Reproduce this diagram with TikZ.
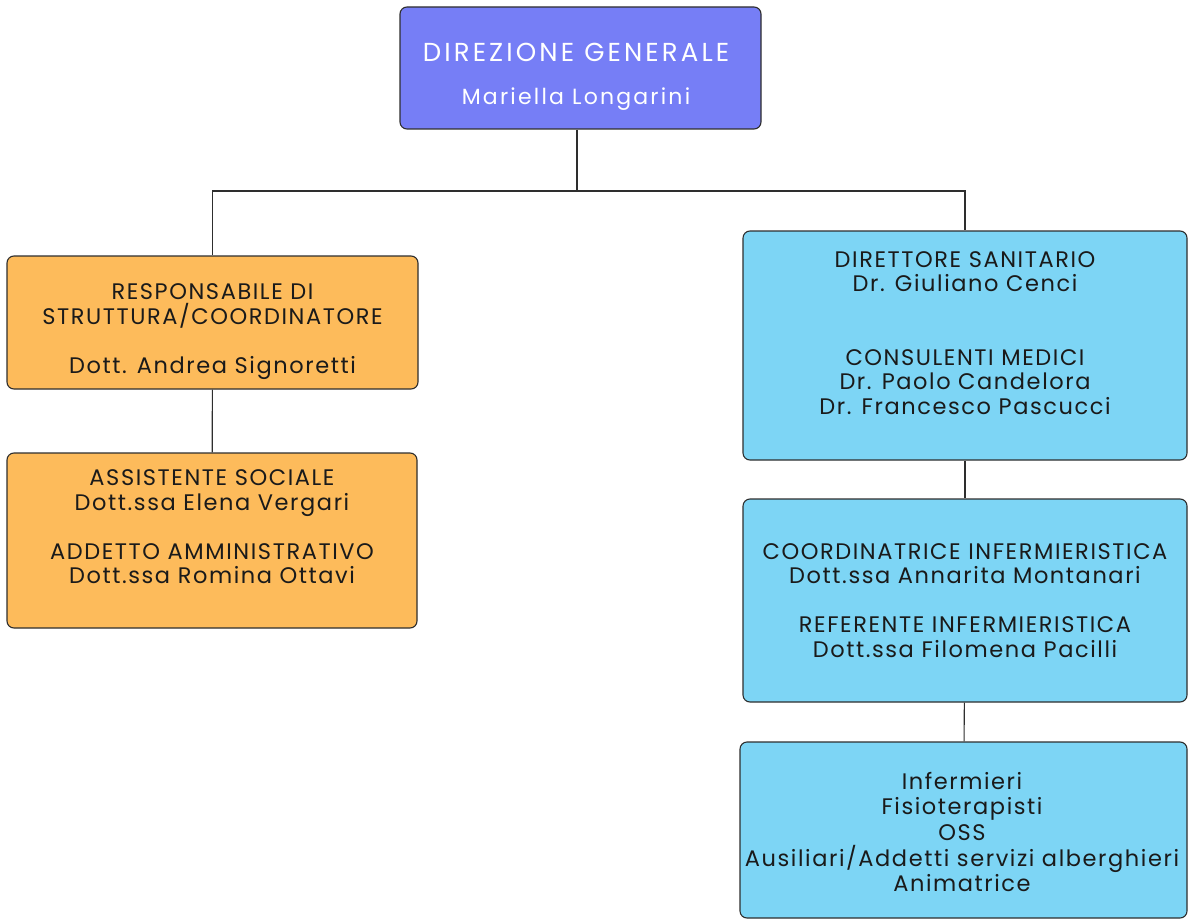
\documentclass[tikz,border=0pt]{standalone}
\usepackage{fontspec}
\setmainfont{Poppins}[LetterSpace=7]
\definecolor{violetbox}{HTML}{767EF6}
\definecolor{orangebox}{HTML}{FDBB5B}
\definecolor{bluebox}{HTML}{7DD5F5}
\definecolor{edgegray}{HTML}{2E2E2E}
\definecolor{inktext}{HTML}{1A1A1A}
\tikzset{
  unit/.style={draw=edgegray, line width=1.1pt, rounded corners=7pt, inner sep=0pt},
  caption/.style={align=center, text=inktext, inner sep=0pt,
    font=\fontsize{22.5}{24.5}\selectfont},
  link/.style={draw=edgegray, line width=1.1pt}
}
\begin{document}
\begin{tikzpicture}[x=1pt,y=-1pt]
\useasboundingbox (0,0) rectangle (1188,920);
% top
\node [unit, fill=violetbox, minimum width=361pt, minimum height=122pt] (dg) at (580.5,68) {};
\node [caption, text=white, font=\fontsize{26}{44}\selectfont\addfontfeature{LetterSpace=12}] (dgtxt) at (576,77)
  {DIREZIONE GENERALE\\[-1pt]{\fontsize{22}{24}\selectfont\addfontfeature{LetterSpace=10}Mariella Longarini}};
% left branch
\node [unit, fill=orangebox, minimum width=411pt, minimum height=133pt] (resp) at (212.5,322.5) {};
\node [caption] (resptxt) at (212.5,331.5)
  {RESPONSABILE DI\\STRUTTURA/COORDINATORE\\[24.5pt]Dott. Andrea Signoretti};
\node [unit, fill=orangebox, minimum width=410pt, minimum height=175pt] (staff) at (212,540.5) {};
\node [caption] (stafftxt) at (212,527)
  {ASSISTENTE SOCIALE\\Dott.ssa Elena Vergari\\[24.5pt]ADDETTO AMMINISTRATIVO\\Dott.ssa Romina Ottavi};
% right branch
\node [unit, fill=bluebox, minimum width=444pt, minimum height=229pt] (dirsan) at (965,345.5) {};
\node [caption] (dirsantxt) at (965,333)
  {DIRETTORE SANITARIO\\Dr. Giuliano Cenci\\[49pt]CONSULENTI MEDICI\\Dr. Paolo Candelora\\Dr. Francesco Pascucci};
\node [unit, fill=bluebox, minimum width=444pt, minimum height=203pt] (coord) at (965,600.5) {};
\node [caption] (coordtxt) at (965,600.5)
  {COORDINATRICE INFERMIERISTICA\\Dott.ssa Annarita Montanari\\[24.5pt]REFERENTE INFERMIERISTICA\\Dott.ssa Filomena Pacilli};
\node [unit, fill=bluebox, minimum width=447pt, minimum height=176pt] (oper) at (963.5,830) {};
\node [caption, font=\fontsize{22.5}{25.7}\selectfont] (opertxt) at (962,832)
  {Infermieri\\Fisioterapisti\\OSS\\Ausiliari/Addetti servizi alberghieri\\Animatrice};
% connectors
\coordinate (split) at (577,191);
\draw [link] (dg.south -| split) -- (split);
\draw [link] (resp.north) |- (split) -| (dirsan.north);
\draw [link] (resp) -- (staff);
\draw [link] (dirsan) -- (coord);
\draw [link] (coord) -- (oper);
\end{tikzpicture}
\end{document}
